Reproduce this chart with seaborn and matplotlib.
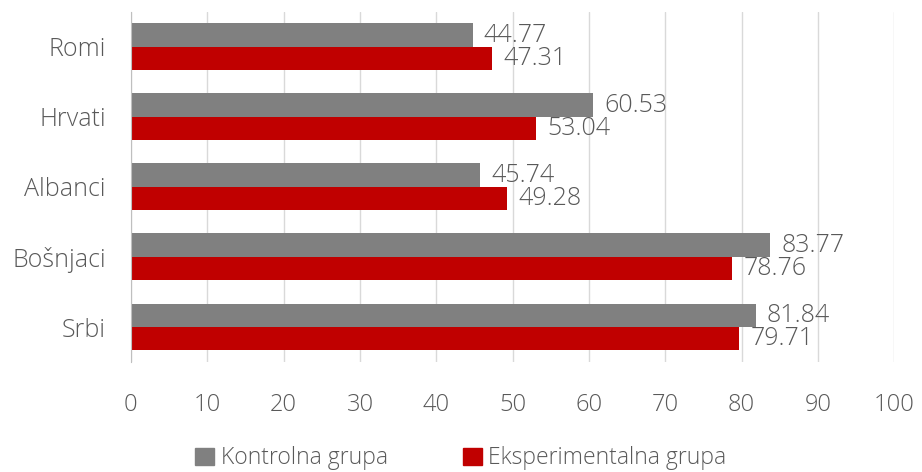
import numpy as np
import pandas as pd
import matplotlib.pyplot as plt
import seaborn as sns
from matplotlib.ticker import FixedLocator

sns.set_style('white')
plt.rcParams['font.family'] = ['Open Sans', 'DejaVu Sans']
plt.rcParams['font.weight'] = 'light'

groups = ['Romi', 'Hrvati', 'Albanci', 'Bošnjaci', 'Srbi']
kontrolna = [44.77, 60.53, 45.74, 83.77, 81.84]
eksperimentalna = [47.31, 53.04, 49.28, 78.76, 79.71]
series = ['Kontrolna grupa', 'Eksperimentalna grupa']
colors = ['#808080', '#C00000']

df = pd.DataFrame({
    'grupa': groups * 2,
    'vrijednost': kontrolna + eksperimentalna,
    'serija': [series[0]] * len(groups) + [series[1]] * len(groups),
})

text_col = '#595959'
fig = plt.figure(figsize=(9.22, 4.72), dpi=100)
ax = fig.add_axes([0.142, 0.233, 0.828, 0.742])

sns.barplot(data=df, y='grupa', x='vrijednost', hue='serija', order=groups,
            hue_order=series, palette=colors, orient='h', width=0.67,
            gap=0, saturation=1, linewidth=0, ax=ax, zorder=3)

for cont in ax.containers:
    ax.bar_label(cont, fmt='%.2f', padding=8, fontsize=18, color=text_col)

ax.set_xlim(0, 100)
ax.set_xticks(np.arange(0, 101, 10))
ax.set_ylim(4.5, -0.5)
ax.set_xlabel('')
ax.set_ylabel('')
ax.grid(axis='x', color='#D9D9D9', linewidth=1, zorder=0)
ax.set_axisbelow(True)

for s in ['top', 'right', 'bottom']:
    ax.spines[s].set_visible(False)
ax.spines['left'].set_color('#BFBFBF')
ax.spines['left'].set_zorder(5)

ax.tick_params(axis='x', length=0, labelsize=17, labelcolor=text_col, pad=22)
ax.tick_params(axis='y', which='major', length=0, labelsize=18,
               labelcolor=text_col, pad=18)
ax.yaxis.set_minor_locator(FixedLocator(np.arange(-0.5, 5, 1)))
ax.tick_params(axis='y', which='minor', length=6, color='#BFBFBF', width=1)

ax.get_legend().remove()
handles = [plt.Rectangle((0, 0), 1, 1, color=c) for c in colors]
fig.legend(handles, series, loc='lower center', bbox_to_anchor=(0.5, -0.04),
           ncol=2, frameon=False, fontsize=16.5, labelcolor=text_col,
           handlelength=0.8, handleheight=0.8, handletextpad=0.3,
           columnspacing=3.3)

fig.savefig('out.png', dpi=100)
